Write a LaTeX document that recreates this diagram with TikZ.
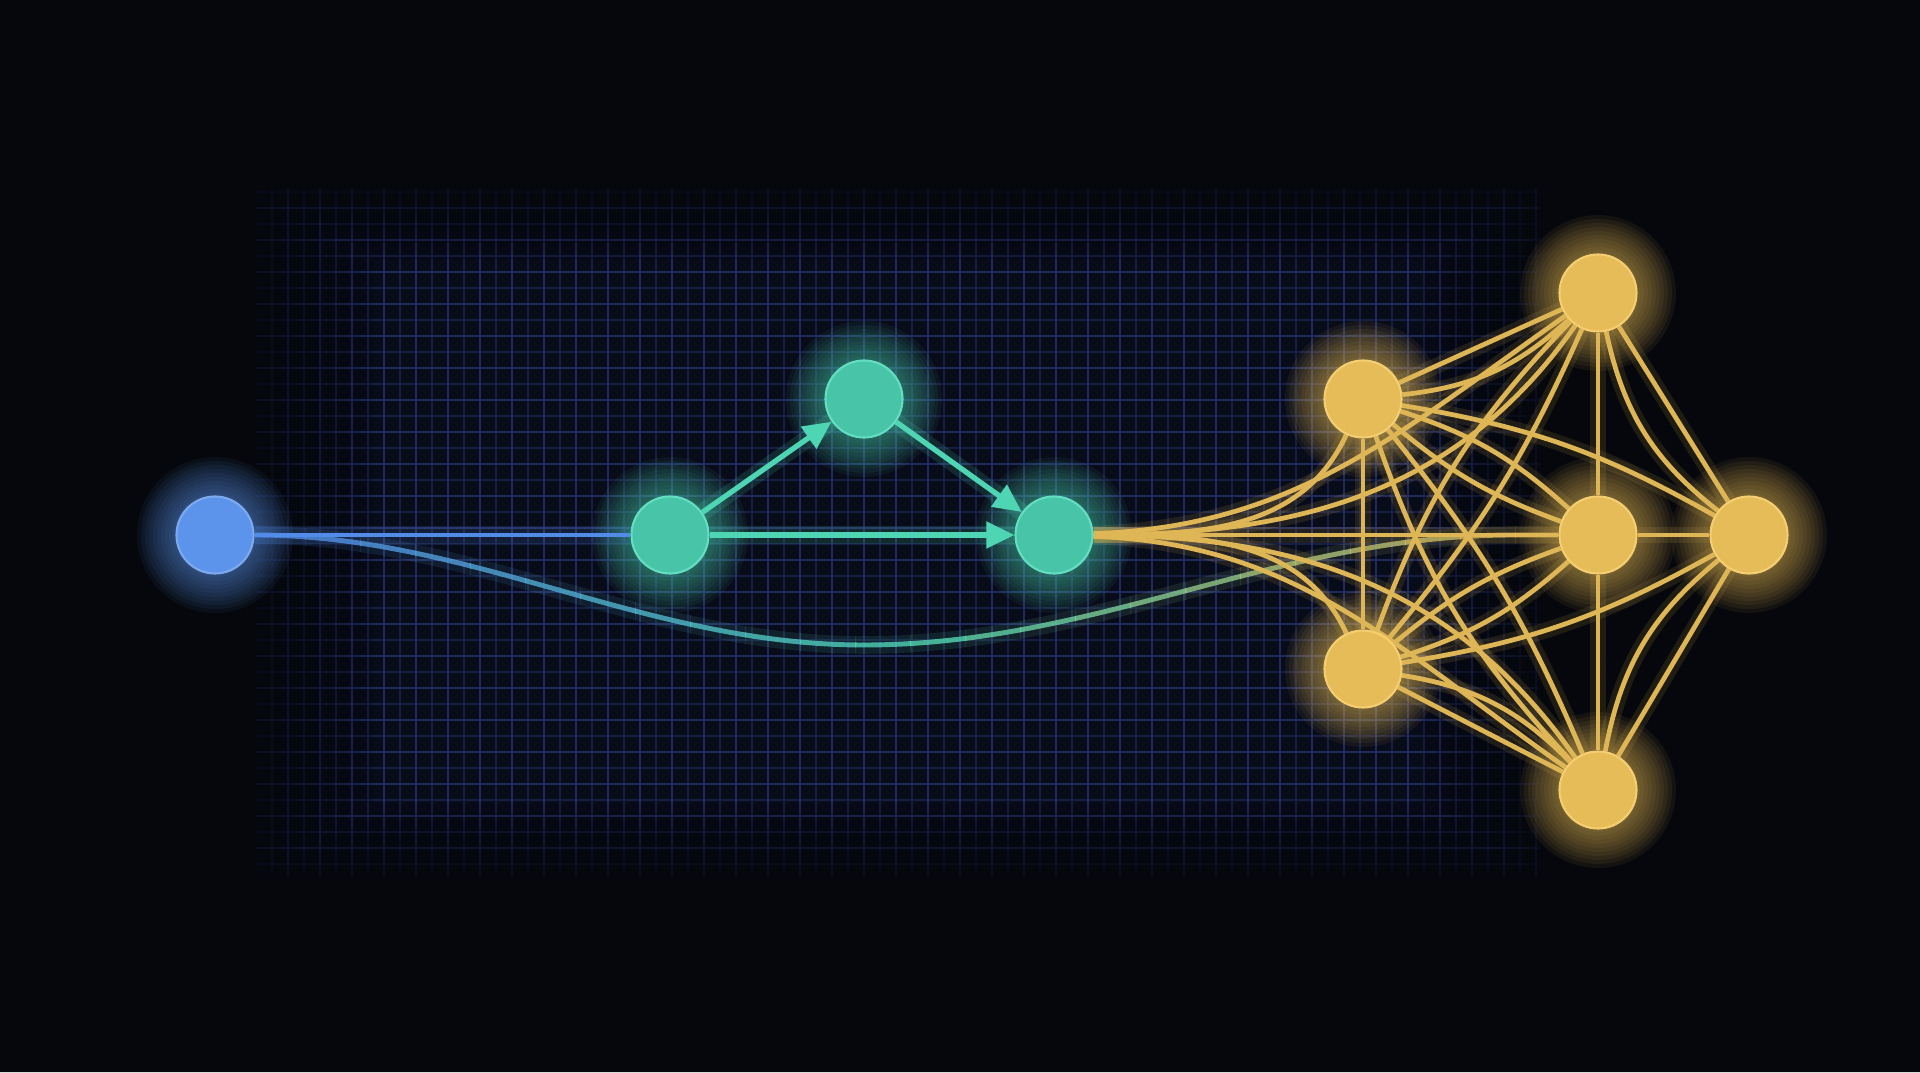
\documentclass[tikz,border=0pt]{standalone}
\usetikzlibrary{arrows.meta}

\definecolor{bgcol}{RGB}{5,7,12}
\definecolor{gridcol}{RGB}{22,30,66}
\definecolor{gridmajor}{RGB}{32,42,92}
\definecolor{gridfill}{RGB}{8,11,24}
\definecolor{bluecol}{RGB}{92,148,235}
\definecolor{blueline}{RGB}{82,140,232}
\definecolor{tealcol}{RGB}{72,196,168}
\definecolor{tealrim}{RGB}{100,222,192}
\definecolor{tealline}{RGB}{78,214,180}
\definecolor{goldcol}{RGB}{230,188,88}
\definecolor{goldrim}{RGB}{244,206,112}
\definecolor{goldline}{RGB}{222,182,86}

\pgfdeclarelayer{back}
\pgfsetlayers{back,main}

\tikzset{
    dotnode/.style={circle, inner sep=0pt, minimum size=7.7mm, line width=0.6pt},
    bluenode/.style={dotnode, fill=bluecol, draw=bluecol!80!white},
    tealnode/.style={dotnode, fill=tealcol, draw=tealrim},
    goldnode/.style={dotnode, fill=goldcol, draw=goldrim},
    blueedge/.style={draw=blueline, line width=1.4pt, preaction={draw=blueline, line width=5pt, draw opacity=0.15}},
    tealedge/.style={draw=tealline, line width=1.5pt, -{Triangle[length=8pt, width=7.4pt]}, preaction={draw=tealline, line width=5pt, draw opacity=0.15, -}},
    goldedge/.style={draw=goldline, line width=1.35pt, preaction={draw=goldline, line width=4.5pt, draw opacity=0.12}}
}

\begin{document}
\begin{tikzpicture}[x=0.1mm, y=0.1mm]
        \pgfmathsetmacro{\noder}{38}
        \useasboundingbox (0,0) rectangle (1920,1072);

        % Input node
        \node[bluenode] (B0) at (215,537) {};
        % Triangle of teal nodes
        \node[tealnode] (T1) at (670,537) {};
        \node[tealnode] (T2) at (864,673) {};
        \node[tealnode] (T3) at (1054,537) {};
        % Gold network
        \node[goldnode] (Y1) at (1363,673) {};
        \node[goldnode] (Y2) at (1598,779) {};
        \node[goldnode] (Y3) at (1598,537) {};
        \node[goldnode] (Y4) at (1749,537) {};
        \node[goldnode] (Y5) at (1363,403) {};
        \node[goldnode] (Y6) at (1598,282) {};

        \begin{pgfonlayer}{back}
            % Background and grid
            \fill[bgcol] (0,0) rectangle (1920,1072);
            \fill[gridfill] (256,196) rectangle (1540,884);
            \draw[gridcol, line width=0.3pt] (256,196) grid[step=1.6mm] (1540,884);
            \draw[gridmajor, line width=0.35pt] (256,196) grid[step=3.2mm] (1540,884);
            % Grid fades out towards its edges
            \foreach \k in {0,...,9}
                \fill[bgcol, fill opacity=0.13, even odd rule]
                    (0,0) rectangle (1920,1072)
                    (256+\k*13,196+\k*8) rectangle (1540-\k*13,884-\k*8);

            % Glow round the nodes
            \foreach \n/\c in {B0/bluecol, T1/tealcol, T2/tealcol, T3/tealcol,
                               Y1/goldcol, Y2/goldcol, Y3/goldcol, Y4/goldcol, Y5/goldcol, Y6/goldcol}
                \foreach \k in {1,...,10}
                    \fill[\c, fill opacity=0.065] (\n) circle (\noder+\k*4);

            % Long curve, coloured strip by strip
            \foreach \i in {0,...,23} {
                \pgfmathsetmacro{\xa}{250+\i*55}
                \pgfmathsetmacro{\xb}{\xa+56}
                \pgfmathtruncatemacro{\pa}{min(100,200*\i/23)}
                \pgfmathtruncatemacro{\pb}{max(0,200*\i/23-100)}
                \colorlet{cA}{tealline!\pa!blueline}
                \colorlet{cB}{goldline!\pb!cA}
                \begin{scope}
                    \clip (\xa,0) rectangle (\xb,1072);
                    \draw[draw=cB, line width=1.4pt, draw opacity=0.8,
                          preaction={draw=cB, line width=5pt, draw opacity=0.12}]
                        (B0.east) .. controls (473,537) and (644,427) .. (864,427)
                        .. controls (1098,427) and (1279,537) .. (1513,537) -- (Y3.west);
                \end{scope}
            }

            % Input and triangle
            \draw[blueedge] (B0) -- (T1);
            \draw[tealedge] (T1) -- (T2);
            \draw[tealedge] (T2) -- (T3);
            \draw[tealedge] (T1) -- (T3);

            % Fan out of the last teal node
            \draw[goldedge] (T3) -- (Y3);
            \draw[goldedge] (Y3) -- (Y4);
            \draw[goldedge] (T3) to[out=0, in=-115] (Y1);
            \draw[goldedge] (T3) to[out=0, in=115] (Y5);
            \draw[goldedge] (T3) to[out=0, in=-125] (Y2);
            \draw[goldedge] (T3) to[out=0, in=125] (Y6);
            \draw[goldedge] (T3) to[out=2, in=-145] (Y2);
            \draw[goldedge] (T3) to[out=-2, in=145] (Y6);

            % Gold network
            \draw[goldedge] (Y1) -- (Y2);
            \draw[goldedge] (Y1) to[bend right=18] (Y2);
            \draw[goldedge] (Y5) -- (Y6);
            \draw[goldedge] (Y5) to[bend left=18] (Y6);
            \draw[goldedge] (Y1) -- (Y5);
            \draw[goldedge] (Y2) -- (Y3);
            \draw[goldedge] (Y3) -- (Y6);
            \draw[goldedge] (Y2) -- (Y4);
            \draw[goldedge] (Y2) to[bend right=20] (Y4);
            \draw[goldedge] (Y6) -- (Y4);
            \draw[goldedge] (Y6) to[bend left=20] (Y4);
            \draw[goldedge] (Y1) to[bend left=12] (Y3);
            \draw[goldedge] (Y5) to[bend right=12] (Y3);
            \draw[goldedge] (Y1) to[bend right=10] (Y3);
            \draw[goldedge] (Y5) to[bend left=10] (Y3);
            \draw[goldedge] (Y1) to[bend left=10] (Y4);
            \draw[goldedge] (Y5) to[bend right=10] (Y4);
            \draw[goldedge] (Y1) to[bend right=12] (Y6);
            \draw[goldedge] (Y1) to[bend left=8] (Y6);
            \draw[goldedge] (Y5) to[bend left=12] (Y2);
            \draw[goldedge] (Y5) to[bend right=8] (Y2);
        \end{pgfonlayer}
\end{tikzpicture}
\end{document}
